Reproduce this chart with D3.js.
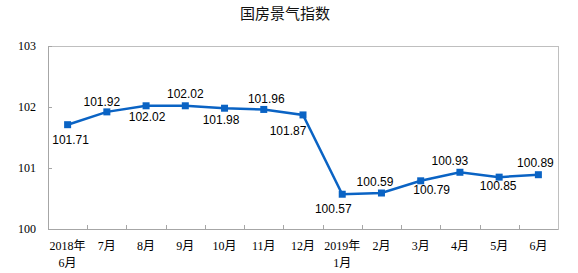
<!DOCTYPE html>
<html>
<head>
<meta charset="utf-8">
<script src="https://cdn.jsdelivr.net/npm/d3@7"></script>
<style>
  body { margin: 0; background: #fff; }
</style>
</head>
<body>
<div id="chart"></div>
<script>
var months = ["2018年|6月", "7月", "8月", "9月", "10月", "11月", "12月", "2019年|1月", "2月", "3月", "4月", "5月", "6月"];
var values = [101.71, 101.92, 102.02, 102.02, 101.98, 101.96, 101.87, 100.57, 100.59, 100.79, 100.93, 100.85, 100.89];
var yTicks = [100, 101, 102, 103];

// label placement relative to each point (layout only)
var labelDx = [3, -5, 1, 0, -3.5, 2.5, -15, -9, -6.5, 11, -10, -1, -3];
var labelDy = [19, -6, 15, -7.5, 16, -6, 20, 19, -7, 13, -7, 13, -8];

var margin = {top: 46, right: 20, bottom: 44, left: 48},
    width = 578 - margin.left - margin.right,
    height = 273 - margin.top - margin.bottom;

var svg = d3.select("#chart")
    .append("svg")
        .attr("width", 578)
        .attr("height", 273);

svg.append("text")
    .attr("x", 285)
    .attr("y", 19)
    .attr("text-anchor", "middle")
    .style("font-family", "'Noto Sans CJK SC', sans-serif")
    .style("font-size", "15px")
    .attr("fill", "#111")
    .text("国房景气指数");

var g = svg.append("g")
    .attr("transform", "translate(" + margin.left + "," + margin.top + ")");

var x = d3.scaleBand()
    .domain(d3.range(months.length))
    .range([0, width]);

var y = d3.scaleLinear()
    .domain([100, 103])
    .range([height, 0]);

// frame
g.append("rect")
    .attr("x", 0.5).attr("y", 0.5)
    .attr("width", width).attr("height", height)
    .attr("fill", "none")
    .attr("stroke", "#bfbfbf");

// y axis
var yAxis = g.append("g")
    .call(d3.axisLeft(y).tickValues(yTicks).tickSize(-4).tickPadding(12).tickFormat(d3.format("d")));
yAxis.select(".domain").attr("stroke", "#a6a6a6");
yAxis.selectAll(".tick line").attr("stroke", "#a6a6a6");
yAxis.selectAll("text")
    .style("font-family", "'Liberation Serif', serif")
    .style("font-size", "12px")
    .attr("fill", "#000");

// x axis, ticks at band boundaries
var xAxis = g.append("g")
    .attr("transform", "translate(0," + height + ")");
xAxis.append("line")
    .attr("x1", 0).attr("x2", width)
    .attr("y1", 0.5).attr("y2", 0.5)
    .attr("stroke", "#a6a6a6");
xAxis.selectAll(".btick")
    .data(d3.range(1, months.length))
    .enter().append("line")
        .attr("x1", function(d) { return Math.round(x(d)) + 0.5; })
        .attr("x2", function(d) { return Math.round(x(d)) + 0.5; })
        .attr("y1", 0).attr("y2", -4)
        .attr("stroke", "#a6a6a6");

var xl = xAxis.selectAll(".xlabel")
    .data(months)
    .enter().append("text")
        .attr("text-anchor", "middle")
        .attr("transform", function(d, i) { return "translate(" + (x(i) + x.bandwidth() / 2) + ",0)"; })
        .style("font-family", "'Liberation Serif', 'Noto Sans CJK SC', serif")
        .style("font-size", "12px")
        .attr("fill", "#000");
xl.each(function(d) {
    var parts = d.split("|");
    var t = d3.select(this);
    parts.forEach(function(p, k) {
        t.append("tspan")
            .attr("x", 0)
            .attr("y", 21 + k * 17)
            .text(p);
    });
});

var line = d3.line()
    .x(function(d, i) { return x(i) + x.bandwidth() / 2; })
    .y(function(d) { return y(d); });

g.append("path")
    .datum(values)
    .attr("fill", "none")
    .attr("stroke", "#0a63c4")
    .attr("stroke-width", 2.5)
    .attr("d", line);

g.selectAll(".pt")
    .data(values)
    .enter().append("rect")
        .attr("x", function(d, i) { return x(i) + x.bandwidth() / 2 - 3.5; })
        .attr("y", function(d) { return y(d) - 3.5; })
        .attr("width", 7)
        .attr("height", 7)
        .attr("fill", "#0a63c4");

g.selectAll(".lbl")
    .data(values)
    .enter().append("text")
        .attr("text-anchor", "middle")
        .attr("x", function(d, i) { return x(i) + x.bandwidth() / 2 + labelDx[i]; })
        .attr("y", function(d, i) { return y(d) + labelDy[i]; })
        .style("font-family", "'Liberation Sans', Arial, sans-serif")
        .style("font-size", "12px")
        .attr("fill", "#000")
        .text(function(d) { return d3.format(".2f")(d); });
</script>
</body>
</html>
